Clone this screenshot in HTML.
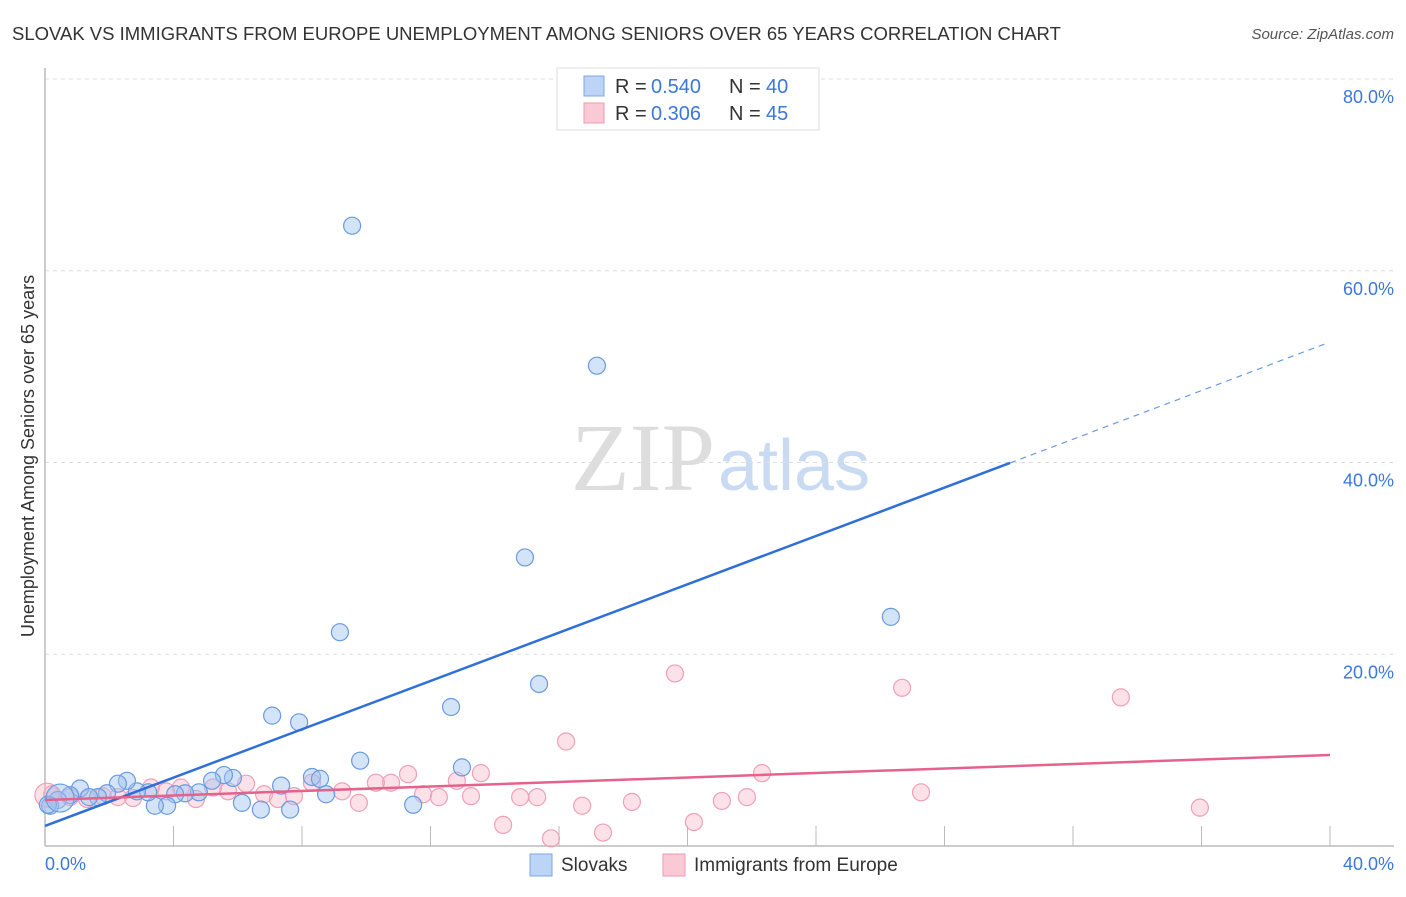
<!DOCTYPE html>
<html><head><meta charset="utf-8"><style>
body{margin:0;background:#fff;font-family:"Liberation Sans",sans-serif}
</style></head><body>
<svg id="c" width="1406" height="892" xmlns="http://www.w3.org/2000/svg">
<text x="12" y="40" font-size="18.5" fill="#333">SLOVAK VS IMMIGRANTS FROM EUROPE UNEMPLOYMENT AMONG SENIORS OVER 65 YEARS CORRELATION CHART</text>
<text x="1394" y="39" font-size="15" fill="#555" text-anchor="end" font-style="italic">Source: ZipAtlas.com</text>
<text x="715" y="490" font-size="96" fill="#ddd" text-anchor="end" font-family="Liberation Serif">ZIP</text>
<text x="718" y="490" font-size="72" fill="#c9dbf2">atlas</text>
<g id="grid"></g><g id="pts"></g><g id="lines"></g>
<text transform="translate(34,456) rotate(-90)" font-size="18" fill="#333" text-anchor="middle">Unemployment Among Seniors over 65 years</text>
<text x="45" y="870" font-size="18" fill="#3b78d8">0.0%</text>
<text x="1394" y="870" font-size="18" fill="#3b78d8" text-anchor="end">40.0%</text>
<g>
<rect x="557" y="68" width="262" height="62" fill="#fff" stroke="#ddd"/>
<rect x="584" y="76" width="20" height="20" fill="#bcd4f5" stroke="#7ea7e0"/>
<rect x="584" y="103" width="20" height="20" fill="#f9c9d6" stroke="#ee9ab3"/>
<text x="615" y="93" font-size="20" fill="#333">R =</text>
<text x="651" y="93" font-size="20" fill="#3b78d8">0.540</text>
<text x="729" y="93" font-size="20" fill="#333">N =</text>
<text x="766" y="93" font-size="20" fill="#3b78d8">40</text>
<text x="615" y="120" font-size="20" fill="#333">R =</text>
<text x="651" y="120" font-size="20" fill="#3b78d8">0.306</text>
<text x="729" y="120" font-size="20" fill="#333">N =</text>
<text x="766" y="120" font-size="20" fill="#3b78d8">45</text>
</g>
<g>
<rect x="530" y="854" width="22" height="22" fill="#bcd4f5" stroke="#7ea7e0"/>
<text x="561" y="871" font-size="19" fill="#333">Slovaks</text>
<rect x="663" y="854" width="22" height="22" fill="#f9c9d6" stroke="#ee9ab3"/>
<text x="694" y="871" font-size="19" fill="#333">Immigrants from Europe</text>
</g>
</svg>
<script>
const yTicks=[20,40,60,80];
const yTickLabels=["20.0%","40.0%","60.0%","80.0%"];
const xTicks=[4,8,12,16,20,24,28,32,36,40];
const slovakX=[9.56,17.18,14.94,9.18,26.33,15.38,12.64,7.07,7.91,9.81,12.98,8.31,8.56,8.75,11.46,7.63,6.72,6.13,7.35,5.85,5.57,5.20,4.79,4.36,4.05,3.80,3.42,3.21,2.86,2.55,2.27,1.93,1.65,1.09,0.78,0.40,0.16,0.09,0.47,1.37];
const slovakY=[64.7,50.1,30.1,22.3,23.9,16.9,14.5,13.6,12.9,8.9,8.2,7.2,7.0,5.4,4.3,3.8,3.8,4.5,6.3,7.1,7.4,6.8,5.6,5.5,5.4,4.2,4.2,5.6,5.7,6.8,6.5,5.5,5.1,6.0,5.3,4.8,4.2,4.3,5.0,5.1];
const europeX=[19.61,26.68,33.49,16.22,22.32,13.57,11.30,12.82,10.77,10.30,8.31,6.26,5.23,4.23,3.30,3.77,5.70,6.82,7.75,9.25,11.77,12.26,13.26,14.79,15.32,9.77,7.25,4.70,2.74,2.27,1.80,1.31,0.78,0.22,27.27,21.85,21.07,18.27,16.72,35.95,14.26,20.20,17.37,15.75,0.06];
const europeY=[18.0,16.5,15.5,10.9,7.6,7.6,7.5,6.8,6.6,6.6,6.6,6.5,6.1,6.1,6.1,5.7,5.7,5.4,5.2,5.7,5.4,5.1,5.2,5.1,5.1,4.5,4.9,4.9,5.0,5.1,5.2,4.9,5.1,5.4,5.6,5.1,4.7,4.6,4.2,4.0,2.2,2.5,1.4,0.8,5.3];
const blueStart=[0,2.09],blueSolidEnd=[30.04,39.95],blueEnd=[39.95,52.5];
const pinkStart=[0,4.8],pinkEnd=[40,9.49];
const sx=v=>45+v*32.125, sy=v=>846-v*9.5875;
const NS="http://www.w3.org/2000/svg";
function mk(t,a,p){const e=document.createElementNS(NS,t);for(const k in a)e.setAttribute(k,a[k]);p.appendChild(e);return e;}
const g=document.getElementById('grid');
yTicks.forEach((t,i)=>{
 const l=mk('line',{x1:45,x2:1394,y1:sy(t),y2:sy(t),stroke:'#ddd','stroke-dasharray':'4,4'},g);
 
 
 const tx=mk('text',{x:1394,y:sy(t)+24,'font-size':18,fill:'#3b78d8','text-anchor':'end'},g);
 tx.textContent=yTickLabels[i];
 
 
});
const ya=mk('line',{x1:45,x2:45,y1:68,y2:846,stroke:'#bbb','stroke-width':1.5},g);


const xa=mk('line',{x1:45,x2:1394,y1:846,y2:846,stroke:'#bbb','stroke-width':1.5},g);


xTicks.forEach(t=>{
 const l=mk('line',{x1:sx(t),x2:sx(t),y1:826,y2:846,stroke:'#bbb'},g);
 
 
});
const p=document.getElementById('pts');
europeX.forEach((x,i)=>{
 const c=mk('circle',{cx:sx(x),cy:sy(europeY[i]),r:i==44?12:8.5,fill:'rgba(249,180,200,0.4)',stroke:'#eea0b8','stroke-width':1.2},p);
 
 
});
slovakX.forEach((x,i)=>{
 const c=mk('circle',{cx:sx(x),cy:sy(slovakY[i]),r:i==38?14:8.5,fill:'rgba(160,195,240,0.45)',stroke:'#6a9be0','stroke-width':1.2},p);
 
 
});
const L=document.getElementById('lines');
let e=mk('line',{x1:sx(blueStart[0]),y1:sy(blueStart[1]),x2:sx(blueSolidEnd[0]),y2:sy(blueSolidEnd[1]),stroke:'#2f6fd8','stroke-width':2.5},L);


e=mk('line',{x1:sx(blueSolidEnd[0]),y1:sy(blueSolidEnd[1]),x2:sx(blueEnd[0]),y2:sy(blueEnd[1]),stroke:'#6a9be0','stroke-width':1.2,'stroke-dasharray':'6,5'},L);


e=mk('line',{x1:sx(pinkStart[0]),y1:sy(pinkStart[1]),x2:sx(pinkEnd[0]),y2:sy(pinkEnd[1]),stroke:'#e4628c','stroke-width':2.5},L);


</script>
</body></html>
